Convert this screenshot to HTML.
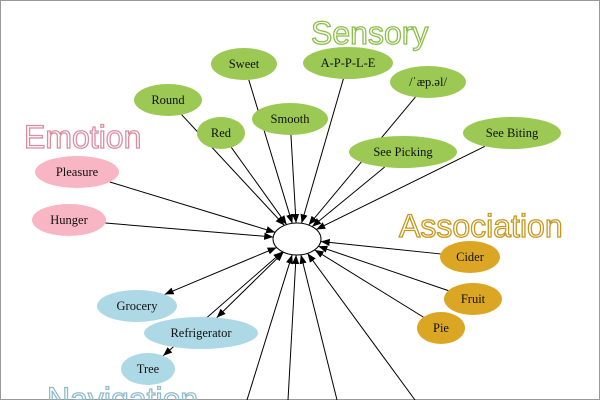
<!DOCTYPE html>
<html><head><meta charset="utf-8"><style>
html,body{margin:0;padding:0;background:#fff;}
svg{display:block;}
.n{font-family:"Liberation Serif","DejaVu Serif",serif;font-size:12.5px;text-anchor:middle;dominant-baseline:central;fill:#111;}
.t{font-family:"Liberation Sans",sans-serif;font-size:32px;fill:none;stroke-width:1.3;}
</style></head><body>
<svg id="s" width="600" height="400" viewBox="0 0 600 400" xmlns="http://www.w3.org/2000/svg">
<defs><marker id="a" viewBox="0 0 10 10" refX="10" refY="5" markerWidth="9" markerHeight="9" markerUnits="userSpaceOnUse" orient="auto"><path d="M0,1 L10,5 L0,9 z" fill="#000"/></marker></defs>
<rect x="0.5" y="0.5" width="599" height="399" fill="#fff" stroke="#999"/>
<text class="t" x="311" y="44" stroke="#8cbf4a" fill="#a8d470" fill-opacity="0.3">Sensory</text>
<text class="t" x="24" y="148" stroke="#d98ea0">Emotion</text>
<text class="t" x="399" y="237" stroke="#c8961a">Association</text>
<text class="t" x="47" y="410" stroke="#8fbccc">Navigation</text>
<g id="e"></g><g id="g"></g>
</svg>
<script>
var C={x:297,y:239,rx:24,ry:16};
var N=[
["Sweet",244,64,33,16,"#9bc953"],["A-P-P-L-E",348,63,45,16,"#9bc953"],["/ˈæp.əl/",428,82,38,16,"#9bc953"],
["Round",168,100,34,16,"#9bc953"],["Red",221,133,24,16,"#9bc953"],["Smooth",290,119,38,16,"#9bc953"],
["See Picking",403,152,54,16,"#9bc953"],["See Biting",512,133,49,16,"#9bc953"],
["Pleasure",77,172,42,16,"#f8b5c3"],["Hunger",69,220,37,16,"#f8b5c3"],
["Cider",470,257,30,16,"#dba623"],["Fruit",473,299,29,16,"#dba623"],["Pie",441,328,24,16,"#dba623"],
["Grocery",137,306,40,16,"#add8e6",1],["Refrigerator",201,333,57,16,"#add8e6",1],["Tree",148,369,27,16,"#add8e6",1]];
var ns="http://www.w3.org/2000/svg",E=document.getElementById("e"),G=document.getElementById("g");
function bp(cx,cy,rx,ry,tx,ty){var dx=tx-cx,dy=ty-cy,k=1/Math.sqrt(dx*dx/(rx*rx)+dy*dy/(ry*ry));return[cx+dx*k,cy+dy*k];}
function line(x1,y1,x2,y2,m1){var l=document.createElementNS(ns,"line");l.setAttribute("x1",x1);l.setAttribute("y1",y1);l.setAttribute("x2",x2);l.setAttribute("y2",y2);l.setAttribute("stroke","#000");l.setAttribute("stroke-width","1");l.setAttribute("marker-end","url(#a)");if(m1)l.setAttribute("marker-start","url(#a)");E.appendChild(l);}
// reverse-start marker
var d=document.querySelector("defs");
var m2=document.createElementNS(ns,"marker");m2.setAttribute("id","b");m2.setAttribute("viewBox","0 0 10 10");m2.setAttribute("refX","0");m2.setAttribute("refY","5");m2.setAttribute("markerWidth","9");m2.setAttribute("markerHeight","9");m2.setAttribute("markerUnits","userSpaceOnUse");m2.setAttribute("orient","auto");m2.innerHTML='<path d="M10,1 L0,5 L10,9 z" fill="#000"/>';d.appendChild(m2);
N.forEach(function(n){var p=bp(n[1],n[2],n[3],n[4],C.x,C.y),q=bp(C.x,C.y,C.rx,C.ry,n[1],n[2]);
 var l=document.createElementNS(ns,"line");l.setAttribute("x1",p[0]);l.setAttribute("y1",p[1]);l.setAttribute("x2",q[0]);l.setAttribute("y2",q[1]);l.setAttribute("stroke","#000");l.setAttribute("marker-end","url(#a)");if(n[6])l.setAttribute("marker-start","url(#b)");E.appendChild(l);
 var e=document.createElementNS(ns,"ellipse");e.setAttribute("cx",n[1]);e.setAttribute("cy",n[2]);e.setAttribute("rx",n[3]);e.setAttribute("ry",n[4]);e.setAttribute("fill",n[5]);G.appendChild(e);
 var t=document.createElementNS(ns,"text");t.setAttribute("class","n");t.setAttribute("x",n[1]);t.setAttribute("y",n[2]);t.textContent=n[0];G.appendChild(t);});
[[247,400],[288,400],[337,400],[415,400]].forEach(function(b){var q=bp(C.x,C.y,C.rx,C.ry,b[0],b[1]);var l=document.createElementNS(ns,"line");l.setAttribute("x1",b[0]);l.setAttribute("y1",b[1]);l.setAttribute("x2",q[0]);l.setAttribute("y2",q[1]);l.setAttribute("stroke","#000");l.setAttribute("marker-end","url(#a)");E.appendChild(l);});
var c=document.createElementNS(ns,"ellipse");c.setAttribute("cx",C.x);c.setAttribute("cy",C.y);c.setAttribute("rx",C.rx);c.setAttribute("ry",C.ry);c.setAttribute("fill","#fff");c.setAttribute("stroke","#000");G.appendChild(c);
</script>
</body></html>
